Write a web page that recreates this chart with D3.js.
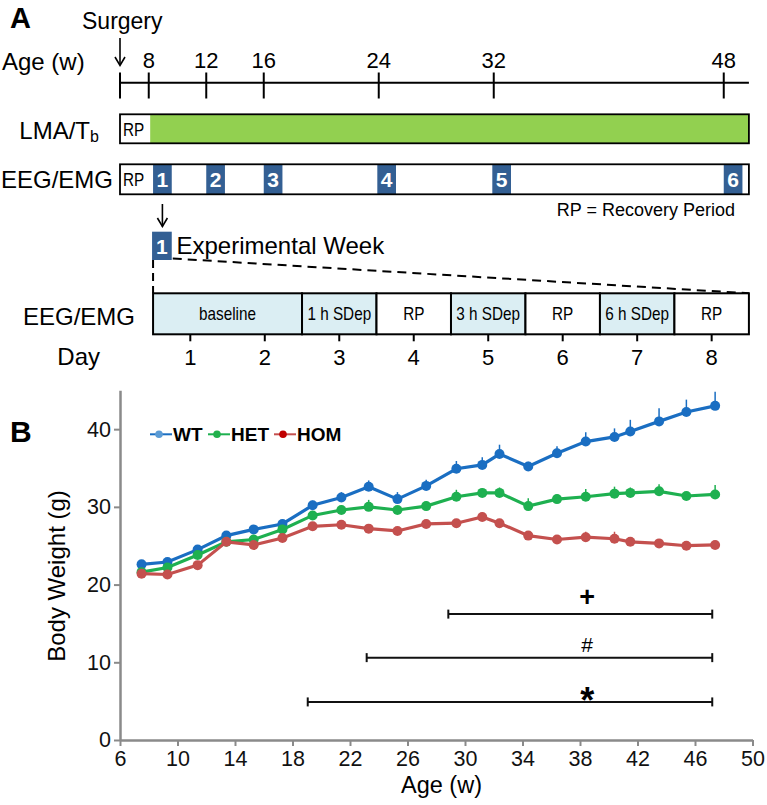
<!DOCTYPE html>
<html><head><meta charset="utf-8">
<script src="https://cdn.jsdelivr.net/npm/d3@7"></script>
<style>body{margin:0;background:#fff}text{font-family:"Liberation Sans",Arial,sans-serif}</style>
</head><body><svg id="c" width="767" height="805"></svg>
<script>
// ---- data ----
const timelineAges = [8, 12, 16, 24, 32, 48];
const surgeryAge = 6;
const timelineEnd = 49.75;
const rpEndAge = 8.1;
const expWeekStarts = [8.3, 12, 16, 23.9, 31.9, 48];
const expWeekLabels = ["1", "2", "3", "4", "5", "6"];
const expWeekWidth = 1.3;
const weekSegments = ["baseline", "1 h SDep", "RP", "3 h SDep", "RP", "6 h SDep", "RP"];
const segStartDay = [0.5, 2.5, 3.5, 4.5, 5.5, 6.5, 7.5];
const segEndDay = [2.5, 3.5, 4.5, 5.5, 6.5, 7.5, 8.5];
const segShaded = [true, true, false, true, false, true, false];
const days = [1, 2, 3, 4, 5, 6, 7, 8];

const ages = [7.5, 9.3, 11.4, 13.4, 15.3, 17.3, 19.4, 21.4, 23.3, 25.3, 27.3, 29.4, 31.2, 32.4, 34.4, 36.4, 38.4, 40.4, 41.5, 43.5, 45.4, 47.4];
const WT = [22.6, 22.9, 24.5, 26.3, 27.1, 27.8, 30.2, 31.2, 32.6, 31.0, 32.7, 34.9, 35.4, 36.8, 35.2, 36.9, 38.4, 39.0, 39.7, 41.0, 42.2, 43.0];
const WT_err = [0.4, 0.4, 0.5, 0.5, 0.5, 0.6, 0.6, 0.7, 0.8, 0.9, 0.8, 1.0, 1.0, 1.2, 0.6, 0.9, 1.2, 1.1, 1.5, 1.7, 1.6, 1.8];
const HET = [21.6, 22.2, 23.8, 25.5, 25.8, 27.1, 28.9, 29.6, 30.0, 29.6, 30.1, 31.3, 31.8, 31.8, 30.1, 31.0, 31.3, 31.7, 31.8, 32.0, 31.4, 31.6];
const HET_err = [0.3, 0.4, 0.4, 0.4, 0.4, 0.5, 0.5, 0.6, 0.9, 0.5, 0.6, 0.9, 0.6, 0.7, 1.0, 0.6, 1.0, 0.9, 0.7, 0.9, 0.5, 1.2];
const HOM = [21.4, 21.3, 22.5, 25.5, 25.1, 26.0, 27.5, 27.7, 27.2, 26.9, 27.8, 27.9, 28.7, 27.9, 26.3, 25.8, 26.1, 25.9, 25.5, 25.3, 25.0, 25.1];
const HOM_err = [0.3, 0.3, 0.4, 0.4, 0.4, 0.4, 0.4, 0.4, 0.4, 0.4, 0.4, 0.5, 0.6, 0.5, 0.4, 0.4, 0.7, 0.9, 0.5, 0.4, 0.4, 0.4];
const seriesNames = ["WT", "HET", "HOM"];

const yTicks = [0, 10, 20, 30, 40];
const xTicks = [6, 10, 14, 18, 22, 26, 30, 34, 38, 42, 46, 50];

const sigSymbols = ["+", "#", "*"];
const sigStart = [28.84, 23.16, 19.06];
const sigEnd = [47.2, 47.2, 47.2];
const sigLevel = [16.2, 10.6, 4.9];
const sigSymbolAge = 38.5;

// ---- drawing ----
const svg = d3.select("#c");
const x = d3.scaleLinear().domain([6, 50]).range([120, 752.5]);
const y = d3.scaleLinear().domain([0, 45]).range([740, 390.3]);
const F = '"Liberation Sans",Arial,sans-serif';

// Panel A
svg.append("text").attr("x", 10).attr("y", 28).attr("font-size", 29).attr("font-weight", "bold").text("A");
svg.append("text").attr("x", 82).attr("y", 29).attr("font-size", 23).text("Surgery");
svg.append("line").attr("x1", x(surgeryAge)).attr("x2", x(surgeryAge)).attr("y1", 38).attr("y2", 65).attr("stroke", "#000").attr("stroke-width", 1.6);
svg.append("path").attr("d", `M${x(surgeryAge)-5},57 L${x(surgeryAge)},65.5 L${x(surgeryAge)+5},57`).attr("fill", "none").attr("stroke", "#000").attr("stroke-width", 1.6);

svg.append("text").attr("x", 2).attr("y", 69.5).attr("font-size", 24).text("Age (w)");
svg.append("line").attr("x1", x(surgeryAge)).attr("x2", x(timelineEnd)).attr("y1", 82.7).attr("y2", 82.7).attr("stroke", "#000").attr("stroke-width", 2);
svg.selectAll(".tt").data([surgeryAge].concat(timelineAges)).enter().append("line")
  .attr("x1", d => x(d)).attr("x2", d => x(d)).attr("y1", 72.5).attr("y2", 98.5).attr("stroke", "#000").attr("stroke-width", 2);
svg.selectAll(".tl").data(timelineAges).enter().append("text")
  .attr("x", d => x(d)).attr("y", 68).attr("text-anchor", "middle").attr("font-size", 22).text(d => d);

// LMA/Tb bar
const lmaY = 114.3, lmaH = 29;
svg.append("text").attr("x", 90).attr("y", 139).attr("font-size", 24).attr("text-anchor", "end").text("LMA/T");
svg.append("text").attr("x", 90).attr("y", 142).attr("font-size", 16).text("b");
svg.append("rect").attr("x", x(rpEndAge)).attr("y", lmaY).attr("width", x(timelineEnd) - x(rpEndAge)).attr("height", lmaH).attr("fill", "#92d050");
svg.append("rect").attr("x", x(surgeryAge)).attr("y", lmaY).attr("width", x(timelineEnd) - x(surgeryAge)).attr("height", lmaH).attr("fill", "none").attr("stroke", "#000").attr("stroke-width", 1.8);
function narrow(sel, tx, ty, txt, size, sx) {
  sel.append("text").attr("transform", `translate(${tx},${ty}) scale(${sx || 0.85},1)`).attr("font-size", size).text(txt);
}
narrow(svg, 123, 135.5, "RP", 18);

// EEG/EMG bar
const eegY = 164.3, eegH = 30;
svg.append("text").attr("x", 113).attr("y", 188).attr("font-size", 24).attr("text-anchor", "end").text("EEG/EMG");
svg.append("rect").attr("x", x(surgeryAge)).attr("y", eegY).attr("width", x(timelineEnd) - x(surgeryAge)).attr("height", eegH).attr("fill", "#fff");
svg.selectAll(".eb").data(expWeekStarts).enter().append("rect")
  .attr("x", d => x(d)).attr("y", eegY).attr("width", d => x(d + expWeekWidth) - x(d)).attr("height", eegH).attr("fill", "#335f93");
svg.selectAll(".ebt").data(expWeekStarts).enter().append("text")
  .attr("x", d => (x(d) + x(d + expWeekWidth)) / 2).attr("y", eegY + 23).attr("text-anchor", "middle")
  .attr("font-size", 21).attr("font-weight", "bold").attr("fill", "#fff").text((d, i) => expWeekLabels[i]);
svg.append("rect").attr("x", x(surgeryAge)).attr("y", eegY).attr("width", x(timelineEnd) - x(surgeryAge)).attr("height", eegH).attr("fill", "none").attr("stroke", "#000").attr("stroke-width", 1.8);
narrow(svg, 123, 186, "RP", 18);
svg.append("text").attr("x", 735).attr("y", 216).attr("text-anchor", "end").attr("font-size", 18).text("RP = Recovery Period");

// arrow to experimental week
const ax = (x(expWeekStarts[0]) + x(expWeekStarts[0] + expWeekWidth)) / 2;
svg.append("line").attr("x1", ax).attr("x2", ax).attr("y1", 204).attr("y2", 226.5).attr("stroke", "#000").attr("stroke-width", 1.6);
svg.append("path").attr("d", `M${ax-5},218 L${ax},226.5 L${ax+5},218`).attr("fill", "none").attr("stroke", "#000").attr("stroke-width", 1.6);

// experimental week
const ebx0 = x(expWeekStarts[0]) - 1, ebx1 = x(expWeekStarts[0] + expWeekWidth);
svg.append("rect").attr("x", ebx0).attr("y", 231.7).attr("width", ebx1 - ebx0).attr("height", 28.3).attr("fill", "#335f93");
svg.append("text").attr("x", (ebx0 + ebx1) / 2).attr("y", 254).attr("text-anchor", "middle").attr("font-size", 21).attr("font-weight", "bold").attr("fill", "#fff").text(expWeekLabels[0]);
svg.append("text").attr("x", 176.5).attr("y", 254).attr("font-size", 24).text("Experimental Week");

const day = d3.scaleLinear().domain([0.5, 8.5]).range([x(expWeekStarts[0]), x(timelineEnd)]);
const wkY = 293.3, wkH = 41;
svg.append("line").attr("x1", day(0.5)).attr("x2", day(0.5)).attr("y1", 260).attr("y2", wkY).attr("stroke", "#000").attr("stroke-width", 2).attr("stroke-dasharray", "8,5");
svg.append("line").attr("x1", ebx1 + 1).attr("x2", day(8.5)).attr("y1", 258.5).attr("y2", wkY).attr("stroke", "#000").attr("stroke-width", 2).attr("stroke-dasharray", "9,6");

svg.selectAll(".seg").data(weekSegments).enter().append("rect")
  .attr("x", (d, i) => day(segStartDay[i])).attr("y", wkY)
  .attr("width", (d, i) => day(segEndDay[i]) - day(segStartDay[i])).attr("height", wkH)
  .attr("fill", (d, i) => segShaded[i] ? "#dbeef3" : "#fff").attr("stroke", "#000").attr("stroke-width", 2);
weekSegments.forEach((s, i) => {
  const cx = (day(segStartDay[i]) + day(segEndDay[i])) / 2;
  svg.append("text").attr("transform", `translate(${cx},${wkY + 27}) scale(0.85,1)`).attr("text-anchor", "middle").attr("font-size", 18).text(s);
});
svg.append("text").attr("x", 135).attr("y", 325).attr("text-anchor", "end").attr("font-size", 24).text("EEG/EMG");
svg.append("text").attr("x", 100).attr("y", 365).attr("text-anchor", "end").attr("font-size", 24).text("Day");
svg.selectAll(".dt").data(days).enter().append("line")
  .attr("x1", d => day(d)).attr("x2", d => day(d)).attr("y1", wkY + wkH).attr("y2", wkY + wkH + 7).attr("stroke", "#000").attr("stroke-width", 2);
svg.selectAll(".dl").data(days).enter().append("text")
  .attr("x", d => day(d)).attr("y", 365).attr("text-anchor", "middle").attr("font-size", 22).text(d => d);

// Panel B
svg.append("text").attr("x", 10).attr("y", 442).attr("font-size", 30).attr("font-weight", "bold").text("B");

const gy = svg.append("g").attr("transform", `translate(${x(6)},0)`)
  .call(d3.axisLeft(y).tickValues(yTicks).tickSize(6).tickSizeOuter(0).tickPadding(3));
const gx = svg.append("g").attr("transform", `translate(0,${y(0)})`)
  .call(d3.axisBottom(x).tickValues(xTicks).tickSize(6).tickSizeOuter(0).tickPadding(5));
[gx, gy].forEach(g => {
  g.select(".domain").attr("stroke", "#8a8a8a").attr("stroke-width", 2.5);
  g.selectAll(".tick line").attr("stroke", "#8a8a8a").attr("stroke-width", 2);
  g.selectAll(".tick text").attr("font-size", 21.5).attr("font-family", F).attr("fill", "#111");
});
svg.append("text").attr("transform", `translate(65,576) rotate(-90)`).attr("text-anchor", "middle").attr("font-size", 24).text("Body Weight (g)");
svg.append("text").attr("x", 441.5).attr("y", 793).attr("text-anchor", "middle").attr("font-size", 23.5).text("Age (w)");

const series = [
  { name: "WT", vals: WT, err: WT_err, color: "#1a6ec2", legend: "#5b9bd5" },
  { name: "HET", vals: HET, err: HET_err, color: "#1eb050", legend: "#22b14c" },
  { name: "HOM", vals: HOM, err: HOM_err, color: "#c4504e", legend: "#c00000" }
];
const line = d3.line().x(d => x(d[0])).y(d => y(d[1]));
series.forEach(s => {
  const g = svg.append("g");
  g.selectAll("line").data(ages).enter().append("line")
    .attr("x1", d => x(d)).attr("x2", d => x(d))
    .attr("y1", (d, i) => y(s.vals[i])).attr("y2", (d, i) => y(s.vals[i] + s.err[i]))
    .attr("stroke", s.color).attr("stroke-width", 1.5);
  g.append("path").datum(ages.map((a, i) => [a, s.vals[i]])).attr("d", line)
    .attr("fill", "none").attr("stroke", s.color).attr("stroke-width", 3.2);
  g.selectAll("circle").data(ages).enter().append("circle")
    .attr("cx", d => x(d)).attr("cy", (d, i) => y(s.vals[i])).attr("r", 5).attr("fill", s.color);
});

// legend
const legX = [150, 208, 274];
const legY = 434.3;
series.forEach((s, i) => {
  svg.append("line").attr("x1", legX[i]).attr("x2", legX[i] + 22).attr("y1", legY).attr("y2", legY).attr("stroke", s.color).attr("stroke-width", 2);
  svg.append("circle").attr("cx", legX[i] + 9).attr("cy", legY).attr("r", 3.8).attr("fill", s.legend);
  svg.append("text").attr("x", legX[i] + 23).attr("y", legY + 7).attr("font-size", 19).attr("font-weight", "bold").text(s.name);
});

// significance bars
const symSize = [27, 21, 36];
const symWeight = ["bold", "normal", "bold"];
const symDy = [-7.8, -5.5, 10.6];
sigSymbols.forEach((sym, i) => {
  const yy = y(sigLevel[i]);
  svg.append("line").attr("x1", x(sigStart[i])).attr("x2", x(sigEnd[i])).attr("y1", yy).attr("y2", yy).attr("stroke", "#111").attr("stroke-width", 2);
  [sigStart[i], sigEnd[i]].forEach(a => svg.append("line").attr("x1", x(a)).attr("x2", x(a)).attr("y1", yy - 4.5).attr("y2", yy + 4.5).attr("stroke", "#111").attr("stroke-width", 2));
  svg.append("text").attr("x", x(sigSymbolAge)).attr("y", yy + symDy[i]).attr("text-anchor", "middle")
    .attr("font-size", symSize[i]).attr("font-weight", symWeight[i]).text(sym);
});
</script></body></html>
